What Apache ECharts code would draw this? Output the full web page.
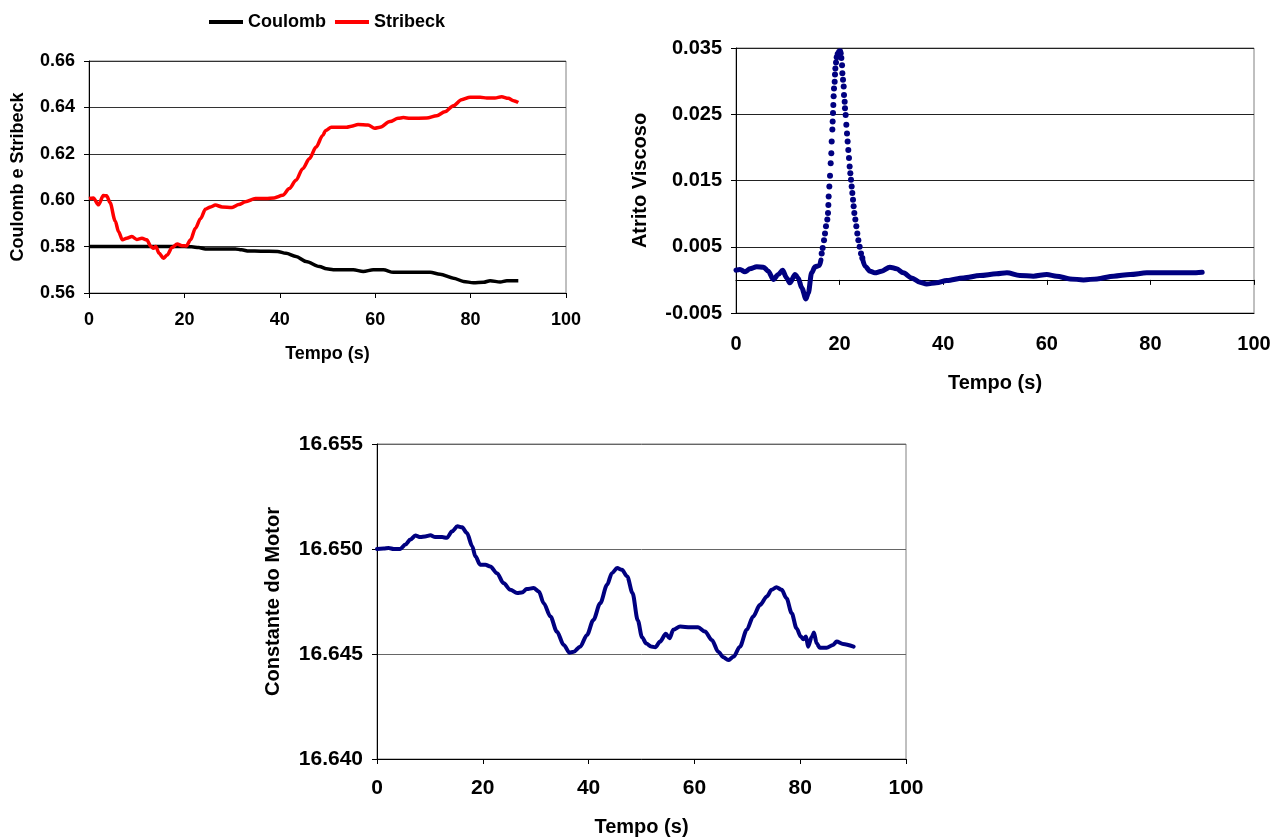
<!DOCTYPE html>
<html>
<head>
<meta charset="utf-8">
<script src="https://cdn.jsdelivr.net/npm/echarts@6/dist/echarts.min.js"></script>
<style>
  html, body { margin: 0; padding: 0; background: #fff; }
  #chart { width: 1272px; height: 838px; }
</style>
</head>
<body>
<div id="chart"></div>
<script>
// [tempo (s), valor]
const coulomb = [[0, 0.5800], [5, 0.5800], [10, 0.5800], [15, 0.5800], [20, 0.5800], [21.5, 0.5799], [23, 0.5796],
  [24.4, 0.5790], [27, 0.5790], [30.7, 0.5790], [32, 0.5786], [33.5, 0.5781], [36, 0.5780], [39.5, 0.5779],
  [41.3, 0.5771], [43.4, 0.5757], [45.5, 0.5736], [48.3, 0.5714], [49.8, 0.5704], [51.2, 0.5700], [55.4, 0.5700],
  [57.5, 0.5693], [59.6, 0.5700], [61.7, 0.5700], [63.8, 0.5689], [71.5, 0.5689], [73.6, 0.5681], [76.4, 0.5664],
  [78.5, 0.5650], [80.6, 0.5644], [82.7, 0.5646], [84.1, 0.5653], [86.2, 0.5647], [87.6, 0.5653], [90, 0.5653]];

const stribeck = [[0, 0.6007], [0.9, 0.6010], [2.0, 0.5980], [3.0, 0.6020], [3.7, 0.6019], [4.4, 0.5990], [5.5, 0.5910],
  [6.2, 0.5864], [7.0, 0.5829], [7.9, 0.5836], [9.0, 0.5843], [10.0, 0.5831], [11.1, 0.5836], [12.1, 0.5829],
  [13.0, 0.5800], [13.5, 0.5793], [14.0, 0.5800], [14.7, 0.5771], [15.6, 0.5750], [16.4, 0.5764], [17.4, 0.5796],
  [18.5, 0.5811], [19.5, 0.5804], [20.4, 0.5803], [21.3, 0.5829], [22.3, 0.5879], [23.4, 0.5921], [24.4, 0.5961],
  [25.5, 0.5971], [26.5, 0.5979], [27.9, 0.5971], [30.0, 0.5969], [31.4, 0.5981], [32.8, 0.5993], [34.9, 0.6007],
  [37.1, 0.6007], [38.8, 0.6010], [40.6, 0.6021], [42.0, 0.6050], [43.4, 0.6086], [44.8, 0.6136], [46.2, 0.6179],
  [47.6, 0.6229], [49.0, 0.6279], [49.6, 0.6300], [50.8, 0.6314], [54.0, 0.6314], [55.0, 0.6319], [56.4, 0.6326],
  [58.5, 0.6324], [59.9, 0.6310], [61.0, 0.6314], [63.1, 0.6339], [64.8, 0.6353], [65.9, 0.6356], [67.3, 0.6353],
  [70.8, 0.6354], [72.9, 0.6364], [74.6, 0.6381], [76.4, 0.6407], [78.1, 0.6433], [79.9, 0.6444], [82.0, 0.6444],
  [83.4, 0.6440], [85.1, 0.6440], [86.5, 0.6446], [87.9, 0.6439], [89.0, 0.6429], [90.0, 0.6421]];

const viscosoAntes = [[0, 0.00146], [0.77, 0.00157], [1.74, 0.00121], [2.7, 0.00167], [4.0, 0.00197], [5.3, 0.00192],
  [6.24, 0.00131], [7.2, 0.00005], [8.17, 0.00081], [9.0, 0.00146], [9.78, 0.0003], [10.4, -0.00045], [11.4, 0.00081],
  [12.0, 0.0003], [12.7, -0.00121], [13.5, -0.00288], [13.96, -0.00197], [14.6, 0.00106], [15.25, 0.00197],
  [16.1, 0.00217], [16.4, 0.0030]];

const viscosoPico = [[16.54, 0.0040], [16.73, 0.0048], [16.99, 0.0060], [17.18, 0.0070], [17.37, 0.0081], [17.63, 0.0091],
  [17.76, 0.0101], [17.83, 0.0113], [17.89, 0.0126], [18.02, 0.0141], [18.15, 0.0157], [18.28, 0.0176], [18.40, 0.0191],
  [18.47, 0.0209], [18.60, 0.0227], [18.66, 0.0239], [18.73, 0.0252], [18.79, 0.0264], [18.85, 0.0277], [18.92, 0.0289],
  [19.05, 0.0299], [19.11, 0.0310], [19.18, 0.0319], [19.31, 0.0328], [19.44, 0.0336], [19.63, 0.0341], [19.89, 0.0344],
  [20.08, 0.0345], [20.21, 0.0342], [20.34, 0.0335], [20.47, 0.0324], [20.53, 0.0312], [20.66, 0.0302], [20.79, 0.0292],
  [20.85, 0.0279], [20.98, 0.0269], [21.04, 0.0259], [21.17, 0.0249], [21.30, 0.0234], [21.43, 0.0221], [21.55, 0.0209],
  [21.68, 0.0196], [21.81, 0.0184], [21.94, 0.0171], [22.07, 0.0161], [22.20, 0.0151], [22.33, 0.0141], [22.46, 0.0131],
  [22.59, 0.0121], [22.71, 0.0111], [22.84, 0.0101], [23.04, 0.0091], [23.23, 0.0081], [23.42, 0.0070], [23.62, 0.0060],
  [23.87, 0.0050], [24.13, 0.0040], [24.39, 0.0033]];

const viscosoDepois = [[24.39, 0.0033], [24.9, 0.00207], [25.9, 0.00131], [26.8, 0.00106], [28.1, 0.00131], [29.7, 0.00192],
  [31.0, 0.00167], [32.3, 0.00106], [33.9, 0.0003], [35.5, -0.00035], [36.8, -0.00061], [38.7, -0.00045], [40.7, -0.0001],
  [43.9, 0.0003], [47.1, 0.00066], [50.3, 0.00091], [52.3, 0.00106], [54.8, 0.00066], [57.4, 0.00056], [60.0, 0.00081],
  [61.9, 0.00056], [64.5, 0.00015], [67.1, 0], [69.7, 0.00015], [72.9, 0.00056], [76.1, 0.00081], [79.3, 0.00106],
  [82.5, 0.00106], [85.7, 0.00106], [88.0, 0.00106], [90.0, 0.00116]];

const motor = [[0, 16.6500], [1.26, 16.65002], [2.2, 16.65005], [3.15, 16.6500], [4.4, 16.6500], [5.36, 16.65021],
  [6.3, 16.65045], [7.25, 16.65064], [8.2, 16.65057], [9.1, 16.6506], [10.1, 16.65065], [11.0, 16.65057], [12.3, 16.65057],
  [13.2, 16.65053], [14.2, 16.65084], [15.2, 16.65108], [16.1, 16.65103], [17.0, 16.65076], [18.0, 16.65013],
  [18.6, 16.64965], [19.5, 16.64925], [20.5, 16.64925], [21.4, 16.64917], [22.7, 16.64885], [23.9, 16.64838],
  [25.2, 16.64806], [26.5, 16.6479], [27.4, 16.64793], [28.3, 16.64809], [29.6, 16.64814], [30.6, 16.64798],
  [31.5, 16.64742], [32.8, 16.64678], [34.0, 16.64607], [35.3, 16.64543], [36.4, 16.64506], [37.2, 16.64511],
  [38.4, 16.64535], [39.7, 16.64591], [40.9, 16.64662], [42.2, 16.64742], [43.5, 16.6483], [44.4, 16.64885],
  [45.4, 16.64909], [46.3, 16.64901], [47.3, 16.64869], [48.3, 16.6479], [49.3, 16.6466], [50.1, 16.6458],
  [50.9, 16.6455], [51.8, 16.64536], [52.6, 16.64532], [53.5, 16.64559], [54.6, 16.64596], [55.3, 16.64575],
  [56.0, 16.64615], [57.3, 16.64631], [59.2, 16.64627], [60.7, 16.64627], [62.0, 16.64607], [63.3, 16.64567],
  [64.5, 16.64511], [65.5, 16.64484], [66.4, 16.64471], [67.4, 16.64487], [68.6, 16.64535], [69.9, 16.64615],
  [71.1, 16.64678], [72.4, 16.64734], [73.7, 16.64774], [74.6, 16.64806], [75.5, 16.64818], [76.5, 16.64806],
  [77.4, 16.64766], [78.4, 16.64694], [79.3, 16.64623], [80.1, 16.64583], [80.6, 16.6457], [81.1, 16.64583],
  [81.5, 16.64535], [82.2, 16.64583], [82.6, 16.64602], [83.1, 16.64551], [83.7, 16.6453], [85.0, 16.6453],
  [86.2, 16.64543], [86.9, 16.64559], [88.1, 16.64548], [90.1, 16.64535]];

const font = "'Liberation Sans', Arial, sans-serif";
const navy = '#000080';

function txt(size) {
  return {fontFamily: font, fontWeight: 'bold', fontSize: size, color: '#000'};
}

function tempoAxis(gridIndex, size, labelSize, gap, margin, ticks) {
  return {
    type: 'value', gridIndex: gridIndex, min: 0, max: 100, interval: 20,
    name: 'Tempo (s)', nameLocation: 'middle', nameGap: gap, nameTextStyle: txt(size),
    axisLine: {onZero: false, lineStyle: {color: '#000', width: 1}},
    axisTick: {show: ticks, length: 5, lineStyle: {color: '#000'}},
    axisLabel: Object.assign({margin: margin}, txt(labelSize)),
    splitLine: {show: false}
  };
}

function valueAxis(gridIndex, name, size, labelSize, gap, min, max, interval, digits, gridColor) {
  return {
    type: 'value', gridIndex: gridIndex, min: min, max: max, interval: interval,
    name: name, nameLocation: 'middle', nameGap: gap, nameTextStyle: txt(size),
    axisLine: {show: true, lineStyle: {color: '#000', width: 1}},
    axisTick: {show: true, length: 5, lineStyle: {color: '#000'}},
    axisLabel: Object.assign({margin: 14, formatter: v => v.toFixed(digits)}, txt(labelSize)),
    splitLine: {show: true, lineStyle: {color: gridColor, width: 1}}
  };
}

const myChart = echarts.init(document.getElementById('chart'));

let option = {
  animation: false,
  backgroundColor: '#fff',
  legend: {
    data: ['Coulomb', 'Stribeck'],
    left: 204, top: 8,
    icon: 'rect', itemWidth: 34, itemHeight: 4, itemGap: 9,
    textStyle: txt(18)
  },
  grid: [
    {left: 89, top: 61, width: 477, height: 232, show: true, borderColor: '#808080', borderWidth: 1, outerBoundsMode: 'none'},
    {left: 736, top: 48, width: 518, height: 265, show: true, borderColor: '#808080', borderWidth: 1, outerBoundsMode: 'none'},
    {left: 377, top: 444, width: 529, height: 315, show: true, borderColor: '#808080', borderWidth: 1, outerBoundsMode: 'none'}
  ],
  xAxis: [
    tempoAxis(0, 18, 18, 52, 18, true),
    tempoAxis(1, 20, 20, 60, 21, false),
    tempoAxis(2, 20, 21, 58, 19, true),
    // zero line with ticks of the viscous-friction panel
    {
      type: 'value', gridIndex: 1, position: 'bottom', min: 0, max: 100, interval: 20,
      axisLine: {onZero: true, lineStyle: {color: '#000', width: 1}},
      axisTick: {show: true, length: 5, lineStyle: {color: '#000'}},
      axisLabel: {show: false},
      splitLine: {show: false}
    }
  ],
  yAxis: [
    valueAxis(0, 'Coulomb e Stribeck', 18, 18, 62, 0.56, 0.66, 0.02, 2, '#333'),
    valueAxis(1, 'Atrito Viscoso', 20, 20, 86, -0.005, 0.035, 0.01, 3, '#222'),
    valueAxis(2, 'Constante do Motor', 20, 21, 94, 16.640, 16.655, 0.005, 3, '#666')
  ],
  series: [
    {
      name: 'Coulomb', type: 'line', xAxisIndex: 0, yAxisIndex: 0, data: coulomb,
      symbol: 'none', smooth: 0.3, smoothMonotone: 'x',
      lineStyle: {color: '#000', width: 3.5}, itemStyle: {color: '#000'}
    },
    {
      name: 'Stribeck', type: 'line', xAxisIndex: 0, yAxisIndex: 0, data: stribeck,
      symbol: 'none', smooth: 0.3, smoothMonotone: 'x',
      lineStyle: {color: '#ff0000', width: 3.5}, itemStyle: {color: '#ff0000'}
    },
    {
      type: 'line', xAxisIndex: 1, yAxisIndex: 1, data: viscosoAntes,
      symbol: 'none', smooth: 0.3, smoothMonotone: 'x',
      lineStyle: {color: navy, width: 5, cap: 'round', join: 'round'}
    },
    {
      type: 'scatter', xAxisIndex: 1, yAxisIndex: 1, data: viscosoPico,
      symbolSize: 6, itemStyle: {color: navy, opacity: 1}
    },
    {
      type: 'line', xAxisIndex: 1, yAxisIndex: 1, data: viscosoDepois,
      symbol: 'none', smooth: 0.3, smoothMonotone: 'x',
      lineStyle: {color: navy, width: 5, cap: 'round', join: 'round'}
    },
    {
      type: 'line', xAxisIndex: 2, yAxisIndex: 2, data: motor,
      symbol: 'none', smooth: 0.3, smoothMonotone: 'x',
      lineStyle: {color: navy, width: 4, cap: 'round', join: 'round'}
    }
  ]
};

option && myChart.setOption(option);
</script>
</body>
</html>
